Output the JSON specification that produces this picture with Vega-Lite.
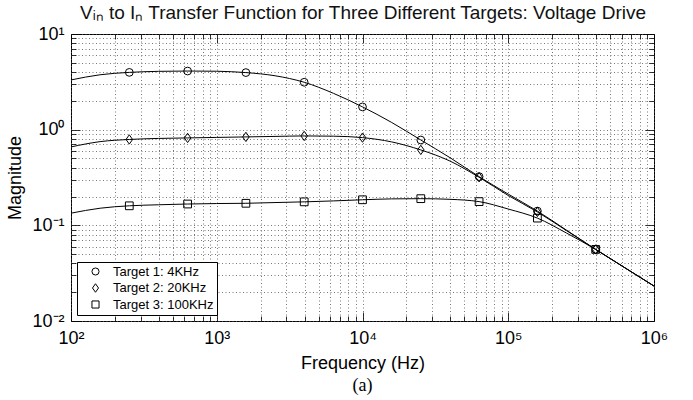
{
  "$schema": "https://vega.github.io/schema/vega-lite/v6.json",
  "width": 583,
  "height": 287,
  "autosize": {"type": "none"},
  "padding": {"left": 71, "top": 34, "right": 39, "bottom": 79},
  "background": "white",
  "config": {"view": {"stroke": "black", "strokeWidth": 1}, "font": "Liberation Sans"},
  "title": {"text": "(a)", "orient": "bottom", "font": "Liberation Serif", "fontSize": 18, "fontWeight": "normal", "color": "black", "offset": 5, "anchor": "middle"},
  "datasets": {
    "curves": [
      {"series": "Target 1: 4KHz", "freq": 100, "mag": 3.31},
      {"series": "Target 1: 4KHz", "freq": 158.5, "mag": 3.75},
      {"series": "Target 1: 4KHz", "freq": 251.2, "mag": 3.97},
      {"series": "Target 1: 4KHz", "freq": 398.1, "mag": 4.07},
      {"series": "Target 1: 4KHz", "freq": 631, "mag": 4.1},
      {"series": "Target 1: 4KHz", "freq": 1000, "mag": 4.08},
      {"series": "Target 1: 4KHz", "freq": 1585, "mag": 3.95},
      {"series": "Target 1: 4KHz", "freq": 2512, "mag": 3.66},
      {"series": "Target 1: 4KHz", "freq": 3981, "mag": 3.13},
      {"series": "Target 1: 4KHz", "freq": 6310, "mag": 2.4},
      {"series": "Target 1: 4KHz", "freq": 10000, "mag": 1.73},
      {"series": "Target 1: 4KHz", "freq": 15849, "mag": 1.19},
      {"series": "Target 1: 4KHz", "freq": 25119, "mag": 0.78},
      {"series": "Target 1: 4KHz", "freq": 39811, "mag": 0.51},
      {"series": "Target 1: 4KHz", "freq": 63096, "mag": 0.323},
      {"series": "Target 1: 4KHz", "freq": 100000, "mag": 0.212},
      {"series": "Target 1: 4KHz", "freq": 158489, "mag": 0.141},
      {"series": "Target 1: 4KHz", "freq": 251189, "mag": 0.089},
      {"series": "Target 1: 4KHz", "freq": 398107, "mag": 0.056},
      {"series": "Target 1: 4KHz", "freq": 630957, "mag": 0.036},
      {"series": "Target 1: 4KHz", "freq": 1000000, "mag": 0.0232},
      {"series": "Target 2: 20KHz", "freq": 100, "mag": 0.66},
      {"series": "Target 2: 20KHz", "freq": 158.5, "mag": 0.75},
      {"series": "Target 2: 20KHz", "freq": 251.2, "mag": 0.79},
      {"series": "Target 2: 20KHz", "freq": 398.1, "mag": 0.81},
      {"series": "Target 2: 20KHz", "freq": 631, "mag": 0.82},
      {"series": "Target 2: 20KHz", "freq": 1000, "mag": 0.83},
      {"series": "Target 2: 20KHz", "freq": 1585, "mag": 0.84},
      {"series": "Target 2: 20KHz", "freq": 2512, "mag": 0.85},
      {"series": "Target 2: 20KHz", "freq": 3981, "mag": 0.86},
      {"series": "Target 2: 20KHz", "freq": 6310, "mag": 0.855},
      {"series": "Target 2: 20KHz", "freq": 10000, "mag": 0.826},
      {"series": "Target 2: 20KHz", "freq": 15849, "mag": 0.745},
      {"series": "Target 2: 20KHz", "freq": 25119, "mag": 0.614},
      {"series": "Target 2: 20KHz", "freq": 39811, "mag": 0.47},
      {"series": "Target 2: 20KHz", "freq": 63096, "mag": 0.318},
      {"series": "Target 2: 20KHz", "freq": 100000, "mag": 0.205},
      {"series": "Target 2: 20KHz", "freq": 158489, "mag": 0.138},
      {"series": "Target 2: 20KHz", "freq": 251189, "mag": 0.088},
      {"series": "Target 2: 20KHz", "freq": 398107, "mag": 0.056},
      {"series": "Target 2: 20KHz", "freq": 630957, "mag": 0.036},
      {"series": "Target 2: 20KHz", "freq": 1000000, "mag": 0.0232},
      {"series": "Target 3: 100KHz", "freq": 100, "mag": 0.134},
      {"series": "Target 3: 100KHz", "freq": 158.5, "mag": 0.151},
      {"series": "Target 3: 100KHz", "freq": 251.2, "mag": 0.16},
      {"series": "Target 3: 100KHz", "freq": 398.1, "mag": 0.164},
      {"series": "Target 3: 100KHz", "freq": 631, "mag": 0.167},
      {"series": "Target 3: 100KHz", "freq": 1000, "mag": 0.169},
      {"series": "Target 3: 100KHz", "freq": 1585, "mag": 0.17},
      {"series": "Target 3: 100KHz", "freq": 2512, "mag": 0.173},
      {"series": "Target 3: 100KHz", "freq": 3981, "mag": 0.176},
      {"series": "Target 3: 100KHz", "freq": 6310, "mag": 0.18},
      {"series": "Target 3: 100KHz", "freq": 10000, "mag": 0.185},
      {"series": "Target 3: 100KHz", "freq": 15849, "mag": 0.189},
      {"series": "Target 3: 100KHz", "freq": 25119, "mag": 0.19},
      {"series": "Target 3: 100KHz", "freq": 39811, "mag": 0.187},
      {"series": "Target 3: 100KHz", "freq": 63096, "mag": 0.177},
      {"series": "Target 3: 100KHz", "freq": 100000, "mag": 0.148},
      {"series": "Target 3: 100KHz", "freq": 158489, "mag": 0.119},
      {"series": "Target 3: 100KHz", "freq": 251189, "mag": 0.083},
      {"series": "Target 3: 100KHz", "freq": 398107, "mag": 0.056},
      {"series": "Target 3: 100KHz", "freq": 630957, "mag": 0.036},
      {"series": "Target 3: 100KHz", "freq": 1000000, "mag": 0.0232}
    ],
    "samples": [
      {"series": "Target 1: 4KHz", "freq": 251.2, "mag": 3.97},
      {"series": "Target 1: 4KHz", "freq": 631, "mag": 4.1},
      {"series": "Target 1: 4KHz", "freq": 1585, "mag": 3.95},
      {"series": "Target 1: 4KHz", "freq": 3981, "mag": 3.13},
      {"series": "Target 1: 4KHz", "freq": 10000, "mag": 1.73},
      {"series": "Target 1: 4KHz", "freq": 25119, "mag": 0.78},
      {"series": "Target 1: 4KHz", "freq": 63096, "mag": 0.323},
      {"series": "Target 1: 4KHz", "freq": 158489, "mag": 0.141},
      {"series": "Target 1: 4KHz", "freq": 398107, "mag": 0.056},
      {"series": "Target 2: 20KHz", "freq": 251.2, "mag": 0.79},
      {"series": "Target 2: 20KHz", "freq": 631, "mag": 0.82},
      {"series": "Target 2: 20KHz", "freq": 1585, "mag": 0.84},
      {"series": "Target 2: 20KHz", "freq": 3981, "mag": 0.86},
      {"series": "Target 2: 20KHz", "freq": 10000, "mag": 0.826},
      {"series": "Target 2: 20KHz", "freq": 25119, "mag": 0.614},
      {"series": "Target 2: 20KHz", "freq": 63096, "mag": 0.318},
      {"series": "Target 2: 20KHz", "freq": 158489, "mag": 0.138},
      {"series": "Target 2: 20KHz", "freq": 398107, "mag": 0.056},
      {"series": "Target 3: 100KHz", "freq": 251.2, "mag": 0.16},
      {"series": "Target 3: 100KHz", "freq": 631, "mag": 0.167},
      {"series": "Target 3: 100KHz", "freq": 1585, "mag": 0.17},
      {"series": "Target 3: 100KHz", "freq": 3981, "mag": 0.176},
      {"series": "Target 3: 100KHz", "freq": 10000, "mag": 0.185},
      {"series": "Target 3: 100KHz", "freq": 25119, "mag": 0.19},
      {"series": "Target 3: 100KHz", "freq": 63096, "mag": 0.177},
      {"series": "Target 3: 100KHz", "freq": 158489, "mag": 0.119},
      {"series": "Target 3: 100KHz", "freq": 398107, "mag": 0.056}
    ]
  },
  "layer": [
    {
      "data": {"name": "curves"},
      "mark": {"type": "line", "color": "black", "strokeWidth": 1, "interpolate": "monotone"},
      "encoding": {
        "x": {
          "field": "freq", "type": "quantitative",
          "scale": {"type": "log", "domain": [100, 1000000], "nice": false},
          "axis": {
            "orient": "bottom", "title": "Frequency (Hz)", "titleFont": "Liberation Sans", "titleFontSize": 18, "titleFontWeight": "normal", "titleColor": "black", "titlePadding": 3,
            "labelFont": "Liberation Sans", "labelFontSize": 18, "labelColor": "black", "labelPadding": 17, "labelOverlap": false, "labelFlush": false, "labelBound": false,
            "labelExpr": "abs(log(datum.value)/LN10 - round(log(datum.value)/LN10)) > 0.001 ? '' : (round(log(datum.value)/LN10) == 2 ? '10²' : round(log(datum.value)/LN10) == 3 ? '10³' : round(log(datum.value)/LN10) == 4 ? '10⁴' : round(log(datum.value)/LN10) == 5 ? '10⁵' : '10⁶')",
            "domain": false, "grid": true, "gridColor": "#555", "gridDash": [1, 2.5], "gridWidth": 0.8,
            "ticks": true, "tickColor": "black", "tickWidth": 0.8,
            "tickSize": {"condition": {"test": "abs(log(datum.value)/LN10 - round(log(datum.value)/LN10)) < 0.001", "value": -9}, "value": -5}
          }
        },
        "y": {
          "field": "mag", "type": "quantitative",
          "scale": {"type": "log", "domain": [0.01, 10], "nice": false},
          "axis": {
            "orient": "left", "title": "Magnitude", "titleFont": "Liberation Sans", "titleFontSize": 18, "titleFontWeight": "normal", "titleColor": "black", "titlePadding": 7,
            "labelFont": "Liberation Sans", "labelFontSize": 18, "labelColor": "black", "labelPadding": 16, "labelOverlap": false, "labelFlush": false, "labelBound": false,
            "labelExpr": "abs(log(datum.value)/LN10 - round(log(datum.value)/LN10)) > 0.001 ? '' : (round(log(datum.value)/LN10) == -2 ? '10⁻²' : round(log(datum.value)/LN10) == -1 ? '10⁻¹' : round(log(datum.value)/LN10) == 0 ? '10⁰' : '10¹')",
            "domain": false, "grid": true, "gridColor": "#555", "gridDash": [1, 2.5], "gridWidth": 0.8,
            "ticks": true, "tickColor": "black", "tickWidth": 0.8,
            "tickSize": {"condition": {"test": "abs(log(datum.value)/LN10 - round(log(datum.value)/LN10)) < 0.001", "value": -9}, "value": -5}
          }
        },
        "detail": {"field": "series", "type": "nominal"}
      }
    },
    {
      "data": {"name": "samples"},
      "mark": {"type": "point", "filled": false, "color": "black", "strokeWidth": 1, "size": 60, "opacity": 1},
      "encoding": {
        "x": {
          "field": "freq", "type": "quantitative",
          "scale": {"type": "log", "domain": [100, 1000000], "nice": false},
          "axis": {
            "orient": "top", "title": "Vᵢₙ to Iₙ Transfer Function for Three Different Targets: Voltage Drive",
            "titleFont": "Liberation Sans", "titleFontSize": 19, "titleFontWeight": "normal", "titleColor": "#111", "titlePadding": 11,
            "labels": false, "domain": false, "grid": false,
            "ticks": true, "tickColor": "black", "tickWidth": 0.8,
            "tickSize": {"condition": {"test": "abs(log(datum.value)/LN10 - round(log(datum.value)/LN10)) < 0.001", "value": -9}, "value": -5}
          }
        },
        "y": {
          "field": "mag", "type": "quantitative",
          "scale": {"type": "log", "domain": [0.01, 10], "nice": false},
          "axis": {
            "orient": "right", "title": null,
            "labels": false, "domain": false, "grid": false,
            "ticks": true, "tickColor": "black", "tickWidth": 0.8,
            "tickSize": {"condition": {"test": "abs(log(datum.value)/LN10 - round(log(datum.value)/LN10)) < 0.001", "value": -9}, "value": -5}
          }
        },
        "shape": {
          "field": "series", "type": "nominal",
          "scale": {"domain": ["Target 1: 4KHz", "Target 2: 20KHz", "Target 3: 100KHz"], "range": ["circle", "M0,-1.2L0.85,0L0,1.2L-0.85,0Z", "square"]},
          "legend": {
            "title": null, "orient": "bottom-left", "offset": 6, "padding": 3,
            "strokeColor": "black", "fillColor": "white", "cornerRadius": 0,
            "labelFont": "Liberation Sans", "labelFontSize": 13, "labelColor": "black", "labelOffset": 11,
            "symbolSize": 50, "symbolOffset": 9, "symbolStrokeColor": "black", "symbolFillColor": "white", "symbolStrokeWidth": 1, "rowPadding": 2.5
          }
        }
      }
    }
  ],
  "resolve": {"axis": {"x": "independent", "y": "independent"}}
}
